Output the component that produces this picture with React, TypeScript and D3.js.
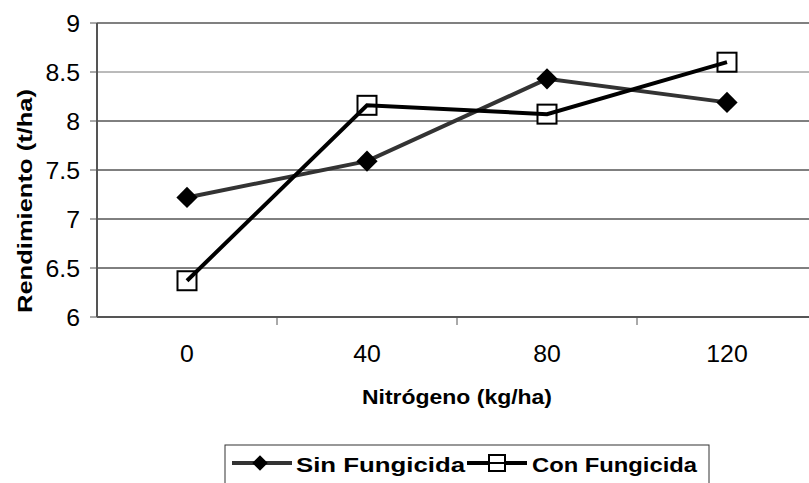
import React from "react";
import * as d3 from "d3";

const categories = ["0", "40", "80", "120"];
const sinFungicida = [7.22, 7.59, 8.43, 8.19];
const conFungicida = [6.37, 8.16, 8.07, 8.6];
const yTicks = [6, 6.5, 7, 7.5, 8, 8.5, 9];

const W = 809;
const H = 483;
const left = 97;
const top = 23;
const bottom = 317;
const bandW = 180;

function Stretched({ x, y, anchor, size, bold, sx, children }: any) {
  return (
    <g transform={`translate(${x},${y}) scale(${sx},1)`}>
      <text
        x={0}
        y={0}
        textAnchor={anchor}
        fontSize={size}
        fontWeight={bold ? "bold" : "normal"}
        fill="#000"
      >
        {children}
      </text>
    </g>
  );
}

export default function App() {
  const x = d3
    .scaleBand<string>()
    .domain(categories)
    .range([left, left + bandW * categories.length])
    .padding(0);
  const y = d3.scaleLinear().domain([6, 9]).range([bottom, top]);
  const cx = (c: string) => (x(c) as number) + x.bandwidth() / 2;
  const line = d3
    .line<number>()
    .x((_, i) => cx(categories[i]))
    .y((d) => y(d));
  const font = "'Liberation Sans', Arial, sans-serif";
  const right = left + bandW * categories.length;
  return (
    <svg
      width={W}
      height={H}
      style={{ position: "absolute", left: 0, top: 0, background: "#fff" }}
      fontFamily={font}
    >
      {yTicks.map((t) => (
        <g key={t}>
          <line
            x1={left}
            x2={right}
            y1={y(t)}
            y2={y(t)}
            stroke={t === 9 ? "#808080" : t === 6 ? "#555" : t === 8.5 ? "#777" : "#000"}
            strokeWidth={t === 9 || t === 6 ? 2 : 1}
          />
          <line x1={left - 7} x2={left} y1={y(t)} y2={y(t)} stroke="#555" strokeWidth={1} />
          <Stretched x={left - 17} y={y(t) + 8.5} anchor="end" size={23} sx={1.08}>
            {t}
          </Stretched>
        </g>
      ))}
      <line x1={left} x2={left} y1={top} y2={bottom} stroke="#555" strokeWidth={2} />
      {categories.map((c, i) => (
        <g key={c}>
          {i > 0 && (
            <line
              x1={x(c) as number}
              x2={x(c) as number}
              y1={bottom}
              y2={bottom + 8}
              stroke="#555"
              strokeWidth={1}
            />
          )}
          <Stretched x={cx(c)} y={bottom + 45} anchor="middle" size={23} sx={1.08}>
            {c}
          </Stretched>
        </g>
      ))}
      <text
        x={457}
        y={404}
        textAnchor="middle"
        fontSize={20}
        fontWeight="bold"
        fill="#000"
        textLength={190}
        lengthAdjust="spacingAndGlyphs"
      >
        Nitrógeno (kg/ha)
      </text>
      <text
        transform={`translate(32,201) rotate(-90)`}
        textAnchor="middle"
        fontSize={20}
        fontWeight="bold"
        fill="#000"
        textLength={224}
        lengthAdjust="spacingAndGlyphs"
      >
        Rendimiento (t/ha)
      </text>

      <path d={line(sinFungicida) || ""} fill="none" stroke="#333" strokeWidth={4} />
      {sinFungicida.map((v, i) => (
        <rect
          key={"s" + i}
          x={cx(categories[i]) - 7.5}
          y={y(v) - 7.5}
          width={15}
          height={15}
          fill="#000"
          transform={`rotate(45 ${cx(categories[i])} ${y(v)})`}
        />
      ))}
      {conFungicida.map((v, i) => (
        <rect
          key={"c" + i}
          x={cx(categories[i]) - 9.5}
          y={y(v) - 9.5}
          width={19}
          height={19}
          fill="#fff"
          stroke="#000"
          strokeWidth={2}
        />
      ))}
      <path d={line(conFungicida) || ""} fill="none" stroke="#000" strokeWidth={4} />

      <rect x={225} y={445} width={484} height={50} fill="#fff" stroke="#333" strokeWidth={1} />
      <line x1={232} x2={292} y1={463} y2={463} stroke="#333" strokeWidth={4} />
      <rect
        x={254.5}
        y={457.5}
        width={11}
        height={11}
        fill="#000"
        transform="rotate(45 260 463)"
      />
      <text
        x={296}
        y={472}
        fontSize={21}
        fontWeight="bold"
        fill="#000"
        textLength={169}
        lengthAdjust="spacingAndGlyphs"
      >
        Sin Fungicida
      </text>
      <line x1={467} x2={527} y1={463} y2={463} stroke="#000" strokeWidth={4} />
      <rect x={489} y={455} width={16} height={16} fill="#fff" stroke="#000" strokeWidth={2} />
      <line x1={489} x2={505} y1={463} y2={463} stroke="#000" strokeWidth={2} />
      <text
        x={532}
        y={472}
        fontSize={21}
        fontWeight="bold"
        fill="#000"
        textLength={165}
        lengthAdjust="spacingAndGlyphs"
      >
        Con Fungicida
      </text>
    </svg>
  );
}
